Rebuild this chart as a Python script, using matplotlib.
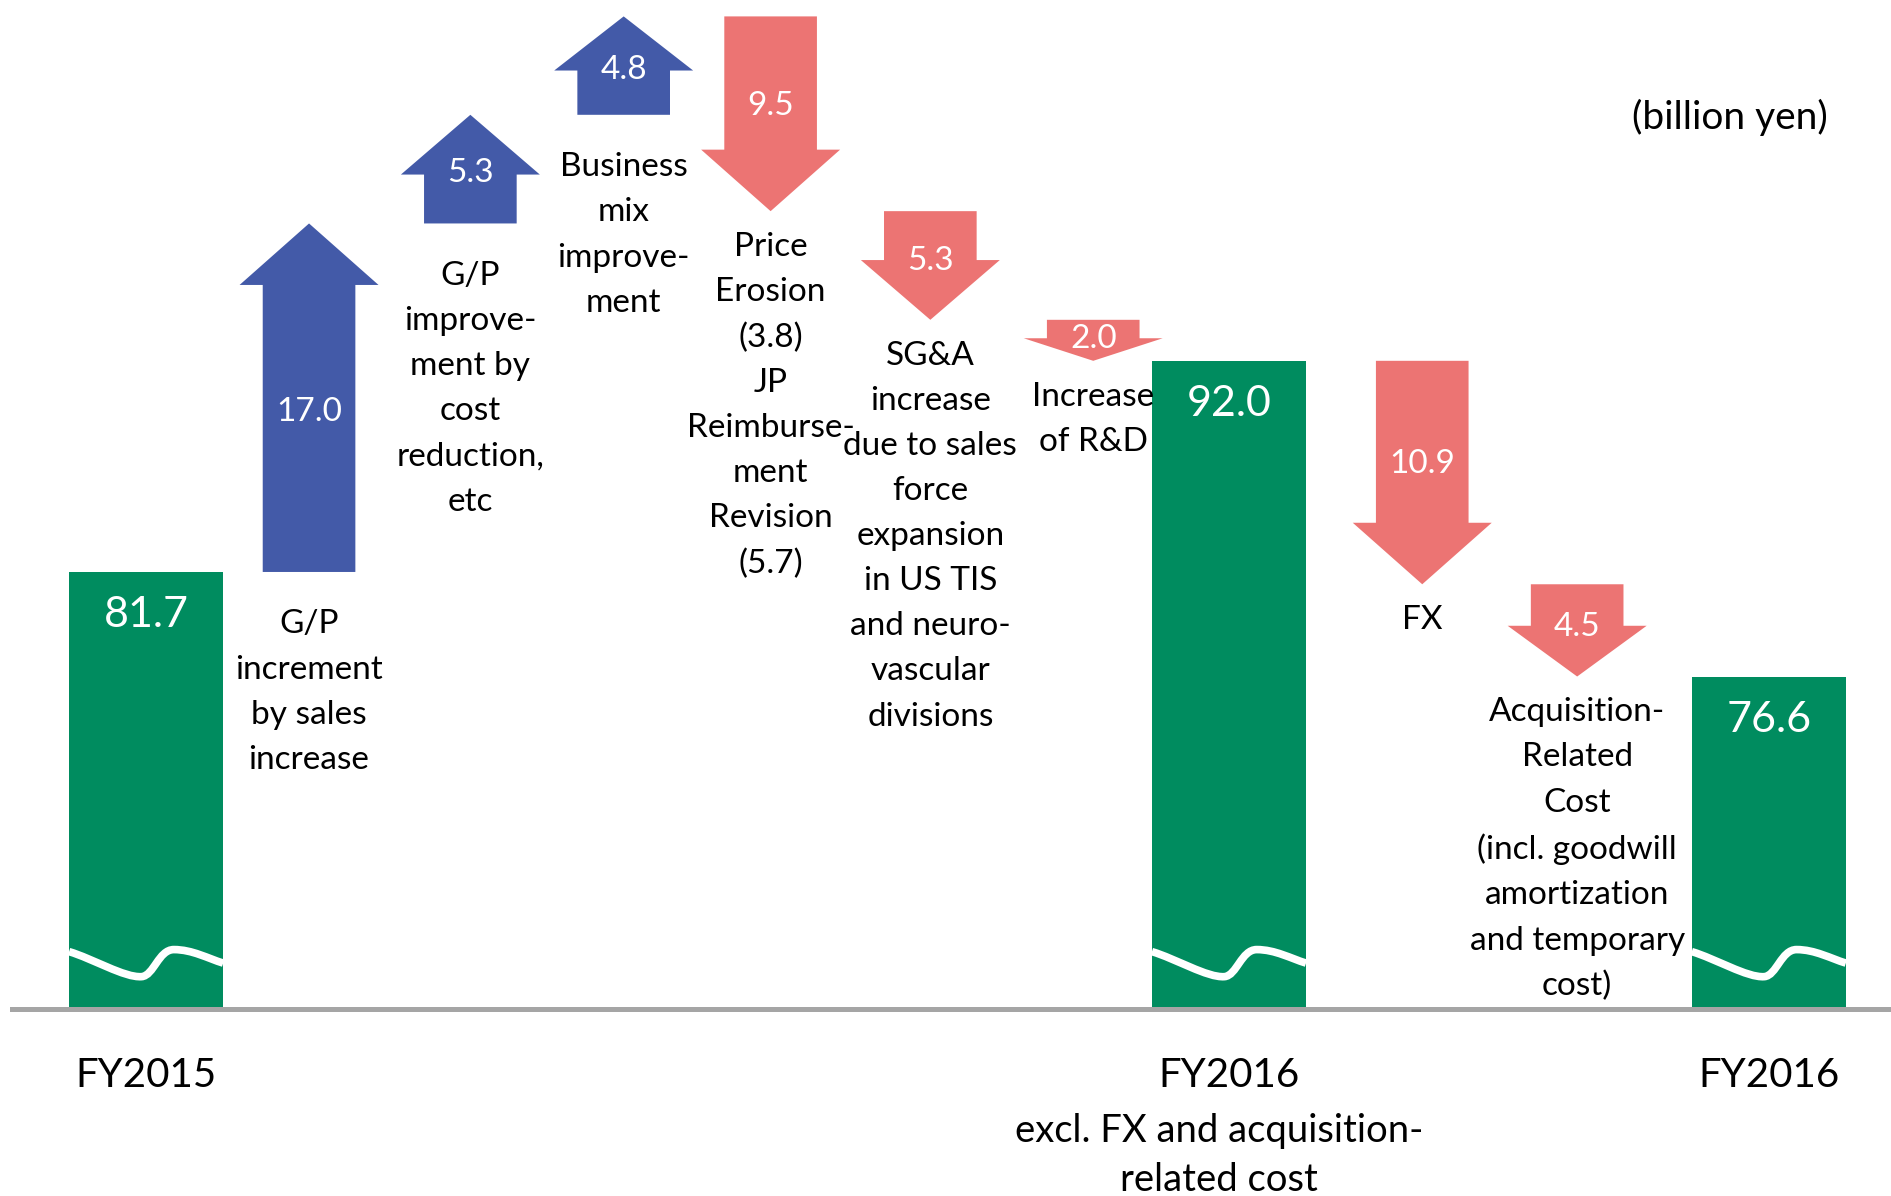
import matplotlib
matplotlib.use("Agg")
import matplotlib.pyplot as plt
from matplotlib.patches import Polygon, PathPatch
from matplotlib.path import Path

plt.rcParams['font.family'] = ['Lato', 'DejaVu Sans']

# ---------------- data ----------------
step_values = [81.7, 17.0, 5.3, 4.8, -9.5, -5.3, -2.0, 92.0, -10.9, -4.5, 76.6]
step_kinds = ['total', 'delta', 'delta', 'delta', 'delta', 'delta', 'delta',
              'total', 'delta', 'delta', 'total']
step_labels = [
    "",
    "G/P\nincrement\nby sales\nincrease",
    "G/P\nimprove-\nment by\ncost\nreduction,\netc",
    "Business\nmix\nimprove-\nment",
    "Price\nErosion\n(3.8)\nJP\nReimburse-\nment\nRevision\n(5.7)",
    "SG&A\nincrease\ndue to sales\nforce\nexpansion\nin US TIS\nand neuro-\nvascular\ndivisions",
    "Increase\nof R&D",
    "",
    "FX",
    "Acquisition-\nRelated\nCost\n(incl. goodwill\namortization\nand temporary\ncost)",
    "",
]
total_labels = ["FY2015", "FY2016", "FY2016"]
total_sublabels = ["", "excl. FX and acquisition-\nrelated cost", ""]
unit_label = "(billion yen)"

# ---------------- style / layout ----------------
GREEN = "#008C5F"
BLUE = "#435AA8"
RED = "#EC7473"
GREY = "#A5A5A5"
axis_floor = 60.4          # value at the (broken) baseline
bar_w = 0.965
head_w = 0.87
shaft_w = 0.58
# horizontal slot of each step (layout, slightly irregular as in the slide)
slot_pos = [0.03, 1.05, 2.06, 3.02, 3.94, 4.94, 5.96, 6.81, 8.02, 8.99, 10.19]

fig = plt.figure(figsize=(18.91, 11.96), dpi=100)
ax = fig.add_axes([0, 0, 1, 1])
ax.set_xlim(-0.885, 10.955)
ax.set_ylim(51.26, 109.6)
ax.axis('off')


def wave(xc, base):
    x0 = xc - bar_w / 2
    pts = [(0.0, 2.78),
           (0.15, 2.45), (0.36, 1.50), (0.47, 1.56),
           (0.55, 1.60), (0.58, 2.88), (0.68, 2.88),
           (0.80, 2.88), (0.90, 2.45), (1.0, 2.22)]
    verts = [(x0 + t * bar_w, base + h) for t, h in pts]
    codes = [Path.MOVETO] + [Path.CURVE4] * 9
    return PathPatch(Path(verts, codes), facecolor='none', edgecolor='white',
                     lw=5.5, zorder=3, capstyle='butt')


level = None
ti = 0
for x, v, kind, lab in zip(slot_pos, step_values, step_kinds, step_labels):
    if kind == 'total':
        ax.bar(x, v - axis_floor, bottom=axis_floor, width=bar_w,
               color=GREEN, zorder=2, linewidth=0)
        ax.annotate(f"{v:.1f}", (x, v), xytext=(0, -31), textcoords='offset points',
                    ha='center', va='center', color='white', fontsize=31, zorder=5)
        ax.add_patch(wave(x, axis_floor))
        ax.annotate(total_labels[ti], (x, axis_floor), xytext=(0, -48),
                    textcoords='offset points', ha='center', va='center',
                    fontsize=29, color='black')
        if total_sublabels[ti]:
            ax.annotate(total_sublabels[ti], (x, axis_floor), xytext=(-7, -75),
                        textcoords='offset points', ha='center', va='top',
                        fontsize=27.5, color='black', linespacing=1.45)
        ti += 1
        level = v
    else:
        start = level
        end = level + v
        sgn = 1 if v > 0 else -1
        head = min(3.0, 0.55 * abs(v))
        hb = end - sgn * head
        poly = [(x - shaft_w / 2, start), (x + shaft_w / 2, start),
                (x + shaft_w / 2, hb), (x + head_w / 2, hb), (x, end),
                (x - head_w / 2, hb), (x - shaft_w / 2, hb)]
        ax.add_patch(Polygon(poly, closed=True, facecolor=BLUE if v > 0 else RED,
                             edgecolor='none', zorder=2))
        ax.text(x, start + 0.46 * v, f"{abs(v):.1f}", ha='center', va='center',
                color='white', fontsize=24, zorder=5)
        gap = -27 if v > 0 else -15
        ax.annotate(lab, (x, min(start, end)), xytext=(0, gap),
                    textcoords='offset points', ha='center', va='top',
                    fontsize=24, color='black', linespacing=1.63)
        level = end

ax.axhline(axis_floor, xmin=0.0063, xmax=1.0, color=GREY, lw=3.6, zorder=4)

ax.text(0.9667, 0.902, unit_label, transform=ax.transAxes, ha='right', va='center',
        fontsize=28, color='black')

fig.savefig("out.png", dpi=100)
